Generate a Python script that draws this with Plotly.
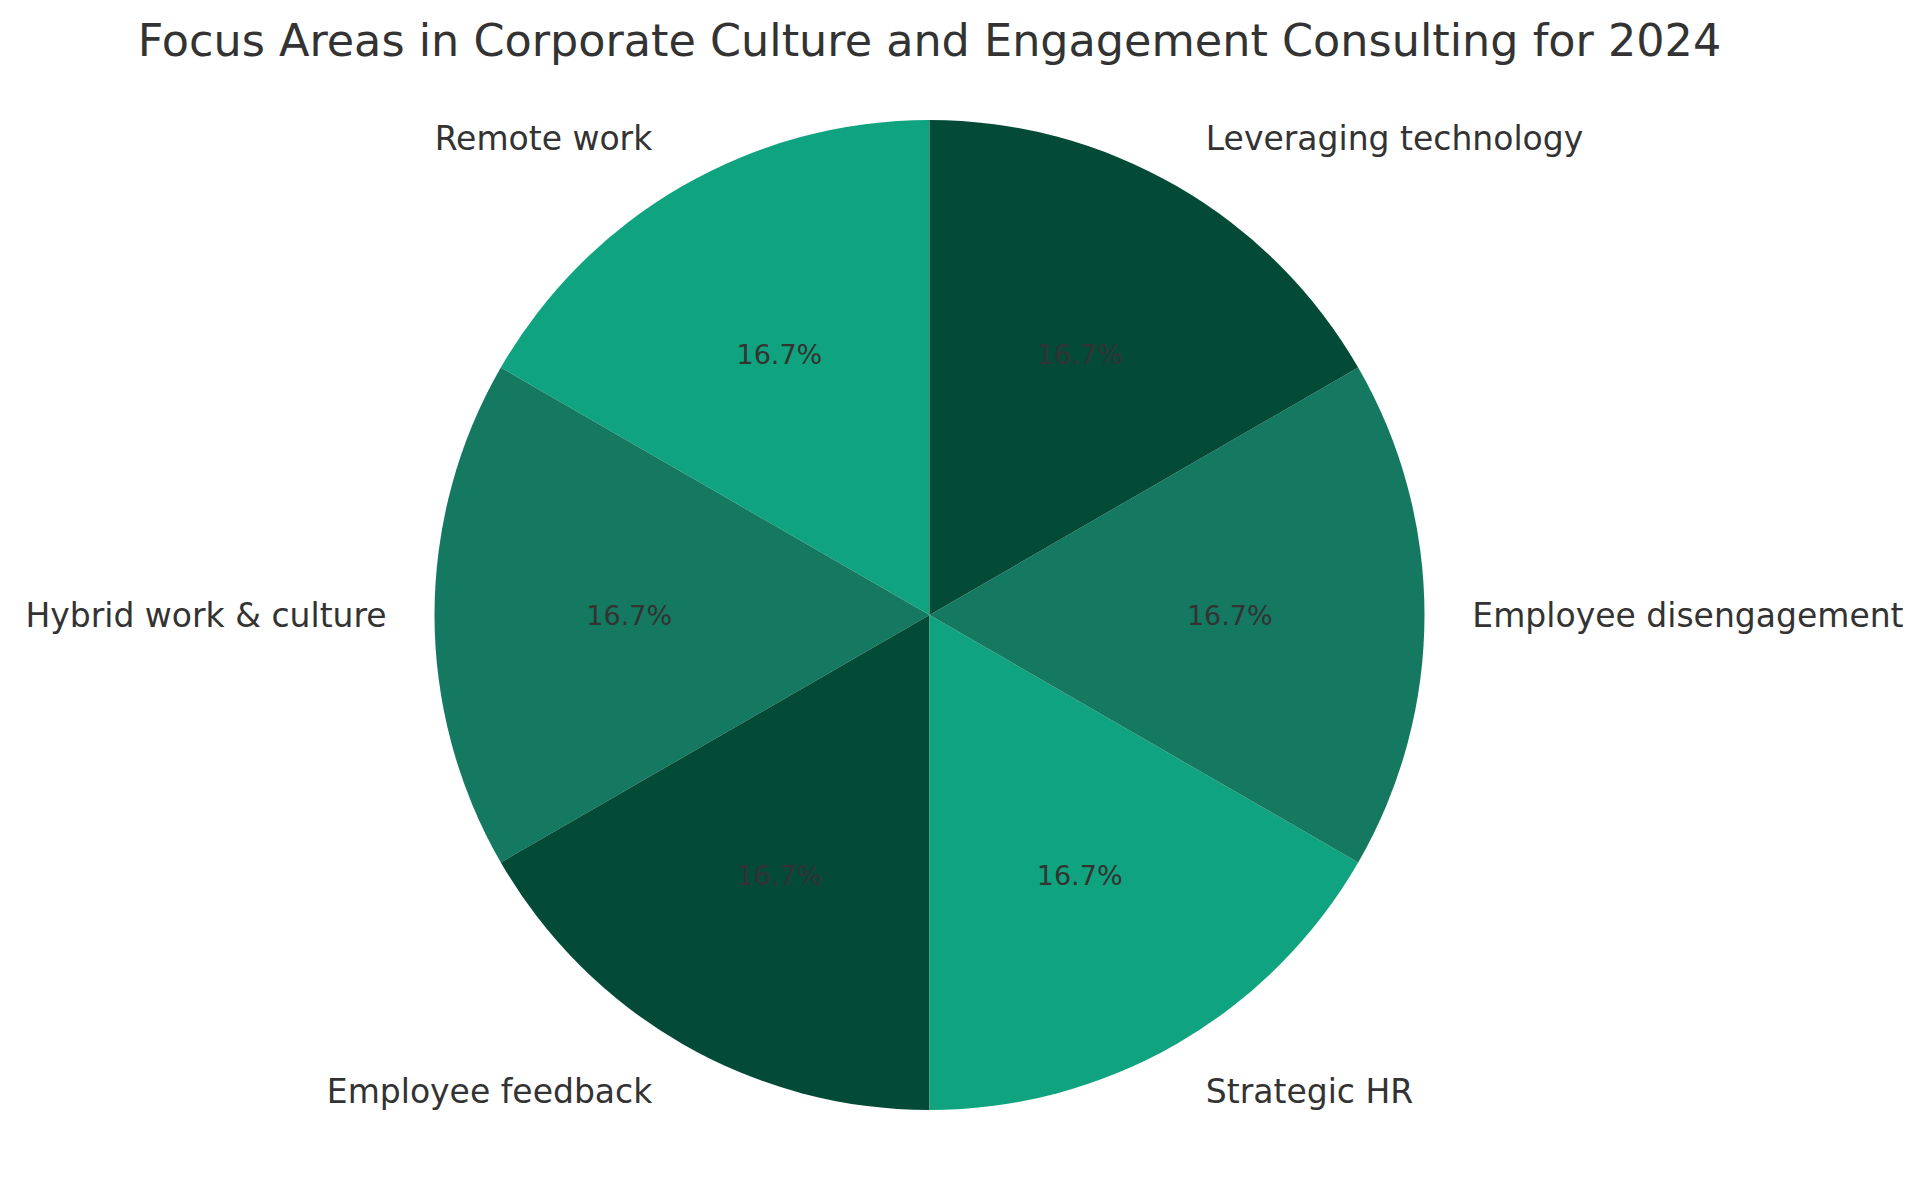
import plotly.graph_objects as go

# 2024 focus areas, equal weight each
areas = ["Remote work", "Hybrid work & culture", "Employee feedback",
         "Strategic HR", "Employee disengagement", "Leveraging technology"]
shares = [1, 1, 1, 1, 1, 1]
colors = ["#10A37F", "#147960", "#034A37", "#10A37F", "#147960", "#034A37"]

W, H = 1930, 1180
# page body adds an 8px offset, so positions are given 8px up/left
cx, cy, r = 921.5, 607, 495


def dom(rad):
    return dict(x=[(cx - rad) / W, (cx + rad) / W],
                y=[1 - (cy + rad) / H, 1 - (cy - rad) / H])


common = dict(labels=areas, values=shares, sort=False,
              direction="counterclockwise", rotation=-60, showlegend=False)
clear = ["rgba(0,0,0,0)"] * len(areas)

fig = go.Figure()

# coloured slices
fig.add_trace(go.Pie(
    **common, marker=dict(colors=colors, line=dict(width=0)),
    textinfo="none", domain=dom(r), hoverinfo="label+percent",
))

# percentages (smaller transparent copy so the text sits at ~0.6 r)
fig.add_trace(go.Pie(
    **common, marker=dict(colors=clear, line=dict(width=0)),
    texttemplate="%{percent:.1%}", textposition="inside",
    insidetextorientation="horizontal",
    textfont=dict(family="DejaVu Sans", size=27, color="#333333"),
    domain=dom(r * 0.91), hoverinfo="skip",
))

# outer labels (larger transparent copy)
fig.add_trace(go.Pie(
    **common, marker=dict(colors=clear, line=dict(width=0)),
    textinfo="label", textposition="outside",
    textfont=dict(family="DejaVu Sans", size=33, color="#333333"),
    domain=dom(r * 1.077), hoverinfo="skip",
))

fig.update_layout(
    width=W, height=H,
    margin=dict(l=0, r=0, t=0, b=0),
    paper_bgcolor="white",
    title=dict(text="Focus Areas in Corporate Culture and Engagement Consulting for 2024",
               x=cx / W, xanchor="center", y=1 - 32 / H, yanchor="middle",
               font=dict(family="DejaVu Sans", size=44.5, color="#333333")),
)

fig.write_html("out.html")
